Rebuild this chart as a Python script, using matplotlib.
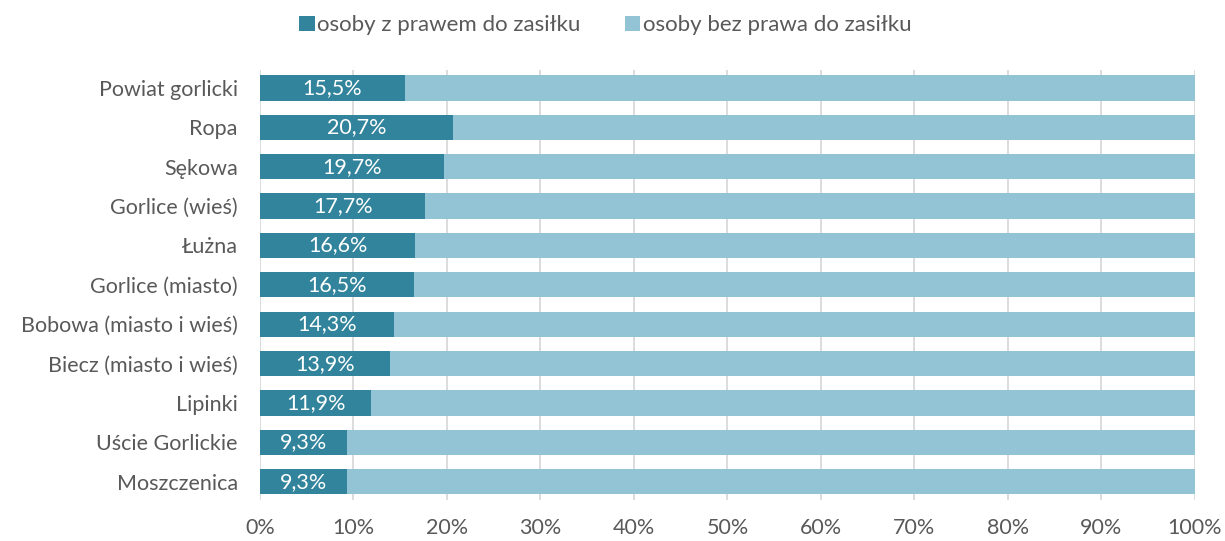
import matplotlib
matplotlib.use("Agg")
import matplotlib.pyplot as plt
import numpy as np

categories = ["Powiat gorlicki", "Ropa", "Sękowa", "Gorlice (wieś)", "Łużna",
              "Gorlice (miasto)", "Bobowa (miasto i wieś)", "Biecz (miasto i wieś)",
              "Lipinki", "Uście Gorlickie", "Moszczenica"]
with_right = [15.5, 20.7, 19.7, 17.7, 16.6, 16.5, 14.3, 13.9, 11.9, 9.3, 9.3]
without_right = [100 - v for v in with_right]
xticks = [0, 10, 20, 30, 40, 50, 60, 70, 80, 90, 100]
series_names = ["osoby z prawem do zasiłku", "osoby bez prawa do zasiłku"]

plt.rcParams['font.family'] = ['Lato', 'DejaVu Sans']
text_color = "#595959"
dark = "#31849b"
light = "#92c4d5"
fs = 15.5

fig = plt.figure(figsize=(12.25, 5.41), dpi=100)
ax = fig.add_axes([0.2122, 0.0758, 0.9755 - 0.2122, 0.871 - 0.0758])

y = np.arange(len(categories))
h = 0.64
b1 = ax.barh(y, with_right, height=h, color=dark, label=series_names[0], zorder=2)
b2 = ax.barh(y, without_right, left=with_right, height=h, color=light, label=series_names[1], zorder=2)

for yi, v in zip(y, with_right):
    ax.text(v / 2, yi, f"{v:.1f}%".replace(".", ","), ha="center", va="center",
            color="white", fontsize=fs, zorder=3)

ax.set_xlim(0, 100)
ax.set_ylim(len(categories) - 0.54, -0.46)
ax.set_xticks(xticks)
ax.set_xticklabels([f"{t}%" for t in xticks], fontsize=fs, color=text_color)
ax.set_yticks(y)
ax.set_yticklabels(categories, fontsize=fs, color=text_color)
ax.tick_params(axis="both", length=0)
ax.tick_params(axis="x", pad=13)
ax.tick_params(axis="y", pad=16)
ax.xaxis.grid(True, color="#d9d9d9", linewidth=1.3, zorder=0)
ax.set_axisbelow(True)
for s in ax.spines.values():
    s.set_visible(False)

leg = fig.legend(handles=[b1, b2], loc="center", bbox_to_anchor=(0.494, 0.953), ncol=2,
                 frameon=False, fontsize=16, handlelength=0.7, handleheight=0.7,
                 handletextpad=0.1, columnspacing=2.0)
for t in leg.get_texts():
    t.set_color(text_color)

fig.savefig("out.png", dpi=100)
